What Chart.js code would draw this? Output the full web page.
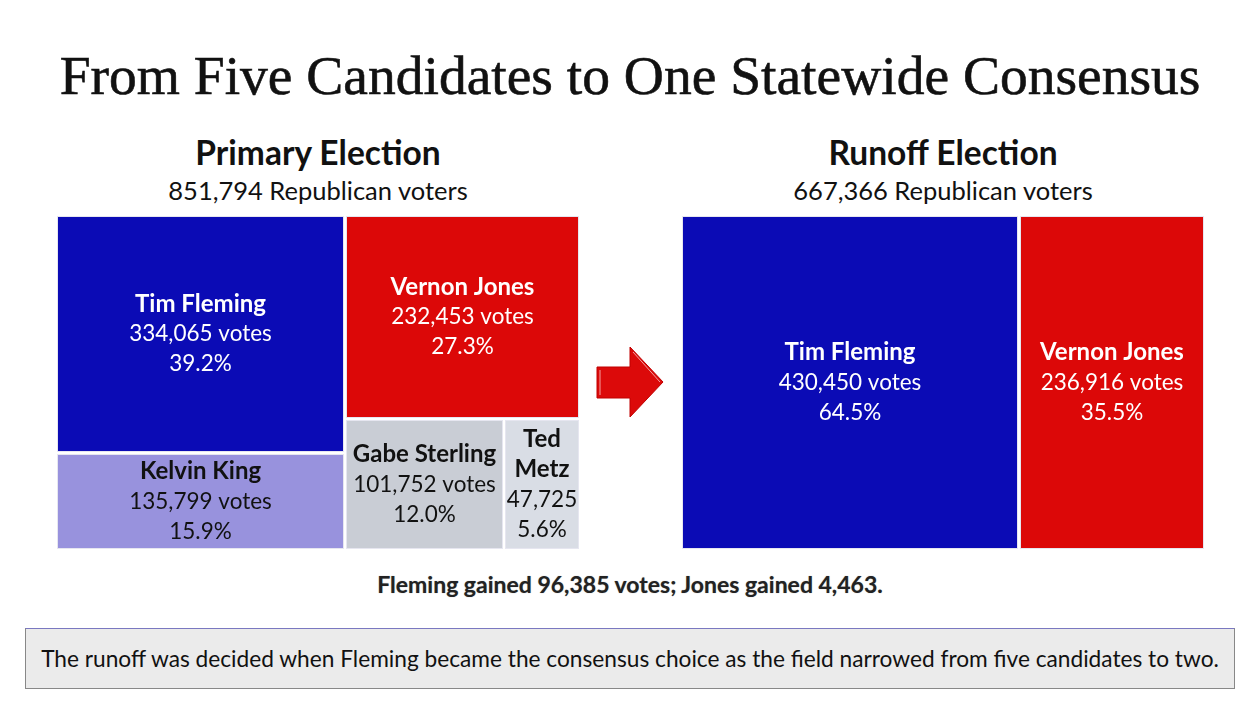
<!DOCTYPE html>
<html>
<head>
<meta charset="utf-8">
<script src="https://cdn.jsdelivr.net/npm/chart.js@4.4.1/dist/chart.umd.min.js"></script>
<style>
  html, body { margin:0; padding:0; background:#fff; }
  body { width:1260px; height:703px; position:relative; overflow:hidden; font-family: Lato, "Open Sans", sans-serif; }
  .abs { position:absolute; }
  #title { left:0; width:1260px; top:45px; text-align:center; font-family:"Liberation Serif", "DejaVu Serif", serif; font-size:55.5px; color:#111; white-space:nowrap; line-height:62px; -webkit-text-stroke:0.6px #111; }
  .head { text-align:center; font-weight:bold; font-size:33.5px; color:#111; line-height:36px; white-space:nowrap; }
  .sub { text-align:center; font-size:25.5px; color:#111; line-height:30px; white-space:nowrap; }
  #gain { left:0; width:1260px; top:570px; text-align:center; font-weight:bold; font-size:23px; color:#222; text-shadow:0 0 1px #999; }
  #note { left:25px; top:628px; width:1208px; height:59px; background:#ebebeb; border:1px solid #888; border-top-color:#7a78c0; box-sizing:content-box; text-align:center; font-size:22.7px; line-height:59px; color:#111; white-space:nowrap; }
  .box { position:absolute; }
</style>
</head>
<body>
<div id="title" class="abs">From Five Candidates to One Statewide Consensus</div>
<div class="abs head" style="left:57px;width:522px;top:134px;">Primary Election</div>
<div class="abs sub" style="left:57px;width:522px;top:175px;">851,794 Republican voters</div>
<div class="abs head" style="left:682px;width:522px;top:134px;">Runoff Election</div>
<div class="abs sub" style="left:682px;width:522px;top:175px;">667,366 Republican voters</div>
<div class="box" style="left:57px;top:216px;width:522px;height:333px;"><canvas id="c1"></canvas></div>
<div class="box" style="left:682px;top:216px;width:522px;height:333px;"><canvas id="c2"></canvas></div>
<svg class="abs" style="left:590px;top:340px;" width="80" height="84">
  <polygon points="7,27 40,27 40,7 73,42 40,77 40,58 7,58" fill="#dc0a0a" stroke="#c00000" stroke-width="1"/>
  <polyline points="10,30 10,55" stroke="#f4a0a0" stroke-width="1" fill="none"/>
  <polyline points="43,12 70,42" stroke="#f4a0a0" stroke-width="1" fill="none"/>
</svg>
<div id="gain" class="abs">Fleming gained 96,385 votes; Jones gained 4,463.</div>
<div id="note" class="abs">The runoff was decided when Fleming became the consensus choice as the field narrowed from five candidates to two.</div>

<script>
// ---- DATA ----
const primaryNames = ["Tim Fleming", "Vernon Jones", "Kelvin King", "Gabe Sterling", "Ted Metz"];
const primaryVotes = [334065, 232453, 135799, 101752, 47725];
const primaryPct   = [39.2, 27.3, 15.9, 12.0, 5.6];
const primaryColors = ["#0b0bb5", "#dc0808", "#9892dd", "#c9cdd5", "#d9dde5"];
const primaryTextColors = ["#ffffff", "#ffffff", "#111111", "#111111", "#111111"];
// grouping of the treemap (columns, then rows within columns)
const primaryGroups = [["Tim Fleming", "Kelvin King"], ["Vernon Jones", ["Gabe Sterling", "Ted Metz"]]];

const runoffNames = ["Tim Fleming", "Vernon Jones"];
const runoffVotes = [430450, 236916];
const runoffPct   = [64.5, 35.5];
const runoffColors = ["#0b0bb5", "#dc0808"];
const runoffTextColors = ["#ffffff", "#ffffff"];
const runoffGroups = ["Tim Fleming", "Vernon Jones"];

function fmt(n){ return n.toLocaleString('en-US'); }

function sumNode(node, lookup){
  if (typeof node === 'string') return lookup[node];
  return node.reduce((s,c)=>s+sumNode(c, lookup), 0);
}
function layout(node, lookup, x0, x1, y0, y1, splitX, out){
  if (typeof node === 'string'){ out.push({name:node, x0, x1, y0, y1}); return; }
  const total = sumNode(node, lookup);
  let acc = 0;
  node.forEach(ch => {
    const v = sumNode(ch, lookup);
    const a = acc / total, b = (acc + v) / total;
    if (splitX) layout(ch, lookup, x0 + (x1-x0)*a, x0 + (x1-x0)*b, y0, y1, !splitX, out);
    else layout(ch, lookup, x0, x1, y0 + (y1-y0)*a, y0 + (y1-y0)*b, !splitX, out);
    acc += v;
  });
}

const NAME_FONT = 'bold 24px Lato';
const VAL_FONT = '22.5px Lato';

const treemapPlugin = {
  id: 'treemapCells',
  afterDatasetsDraw(chart, args, opts){
    const {ctx, scales:{x, y}} = chart;
    const lookup = {};
    opts.names.forEach((n,i)=> lookup[n] = opts.votes[i]);
    const cells = [];
    layout(opts.groups, lookup, 0, 1, 0, 1, true, cells);
    ctx.save();
    cells.forEach(c => {
      const i = opts.names.indexOf(c.name);
      const px0 = x.getPixelForValue(c.x0), px1 = x.getPixelForValue(c.x1);
      const py0 = y.getPixelForValue(c.y0), py1 = y.getPixelForValue(c.y1);
      const L = Math.round(px0) + (c.x0 > 0 ? 1 : 0);
      const R = Math.round(px1) - (c.x1 < 1 ? 1 : 0);
      const T = Math.round(py0) + (c.y0 > 0 ? 1 : 0);
      const B = Math.round(py1) - (c.y1 < 1 ? 1 : 0);
      ctx.fillStyle = '#e6e6f0';
      ctx.fillRect(L, T, R-L, B-T);
      ctx.fillStyle = opts.colors[i];
      ctx.fillRect(L+1, T+1, R-L-2, B-T-2);
      // labels
      const w = R - L - 4;
      const lines = [];
      ctx.font = NAME_FONT;
      const name = c.name;
      if (ctx.measureText(name).width > w) name.split(' ').forEach(p => lines.push({t:p, b:true}));
      else lines.push({t:name, b:true});
      ctx.font = VAL_FONT;
      let vt = fmt(opts.votes[i]) + ' votes';
      if (ctx.measureText(vt).width > w) vt = fmt(opts.votes[i]);
      lines.push({t:vt, b:false});
      lines.push({t:opts.pct[i].toFixed(1) + '%', b:false});
      const lh = 30;
      const cx = (L + R) / 2, cy = (T + B) / 2;
      const start = cy - (lines.length - 1) * lh / 2;
      ctx.fillStyle = opts.textColors[i];
      ctx.textAlign = 'center';
      ctx.textBaseline = 'middle';
      lines.forEach((ln, k) => {
        ctx.font = ln.b ? NAME_FONT : VAL_FONT;
        ctx.fillText(ln.t, cx, start + k*lh);
      });
    });
    ctx.restore();
  }
};

function makeChart(id, names, votes, pct, colors, textColors, groups){
  return new Chart(document.getElementById(id), {
    type: 'scatter',
    data: { datasets: [{ data: [], showLine:false }] },
    options: {
      responsive: true,
      maintainAspectRatio: false,
      animation: false,
      layout: { padding: 0 },
      scales: {
        x: { type:'linear', min:0, max:1, display:false },
        y: { type:'linear', min:0, max:1, reverse:true, display:false }
      },
      plugins: {
        legend: { display:false },
        tooltip: { enabled:false },
        treemapCells: { names, votes, pct, colors, textColors, groups }
      }
    },
    plugins: [treemapPlugin]
  });
}

function go(){
  makeChart('c1', primaryNames, primaryVotes, primaryPct, primaryColors, primaryTextColors, primaryGroups);
  makeChart('c2', runoffNames, runoffVotes, runoffPct, runoffColors, runoffTextColors, runoffGroups);
}
if (document.fonts && document.fonts.load) {
  Promise.all([document.fonts.load('22.5px Lato'), document.fonts.load('bold 24px Lato')]).then(go, go);
} else go();
</script>
</body>
</html>
